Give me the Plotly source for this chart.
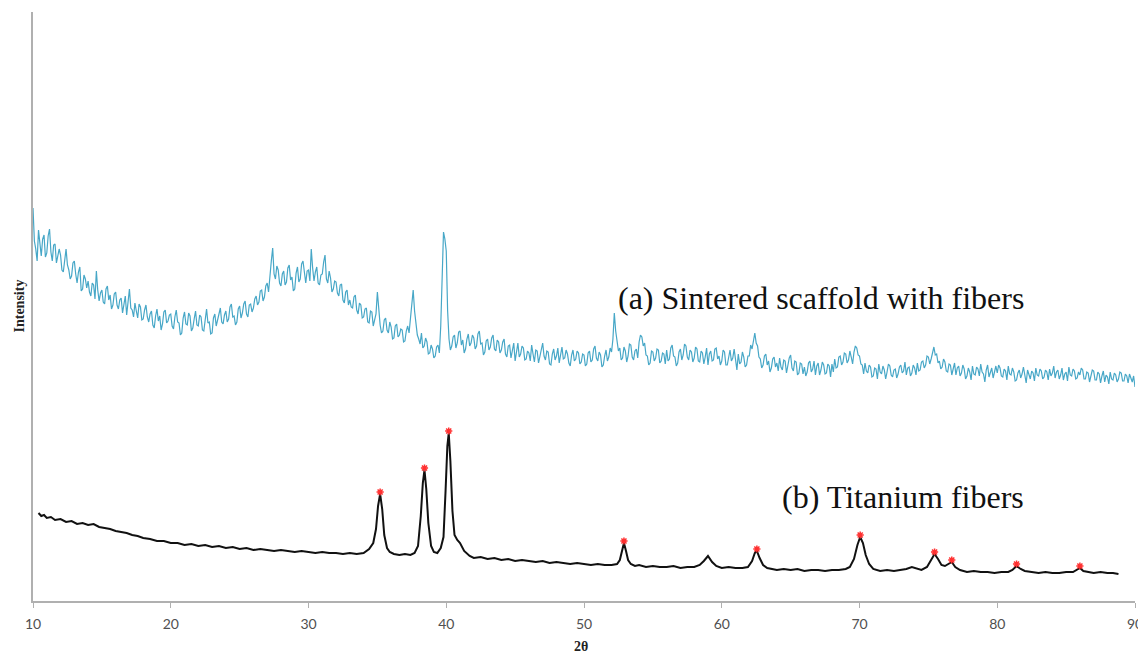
import plotly.graph_objects as go

# ---------------- data ----------------
# (a) Sintered scaffold with fibers: 2-theta from 10 to 90 in 0.1 steps
a_start, a_step = 10.0, 0.1
a_intensity = [
    393, 360, 352, 340, 371, 355, 345, 362, 366, 344, 348, 365, 372, 349, 340, 356, 357, 338, 344, 352,
    346, 331, 329, 344, 352, 336, 331, 322, 325, 338, 340, 327, 318, 329, 334, 310, 312, 326, 322, 313,
    320, 309, 305, 318, 316, 302, 330, 311, 300, 308, 311, 299, 297, 312, 315, 301, 306, 292, 296, 307,
    309, 296, 292, 301, 303, 288, 297, 305, 286, 298, 312, 293, 291, 284, 298, 290, 283, 297, 294, 281,
    282, 291, 296, 284, 279, 287, 290, 276, 273, 285, 292, 280, 285, 271, 277, 289, 291, 278, 280, 286,
    287, 275, 272, 284, 291, 279, 278, 266, 268, 283, 289, 277, 276, 288, 285, 270, 273, 282, 290, 276,
    275, 286, 284, 271, 270, 281, 292, 278, 279, 267, 268, 283, 287, 275, 281, 290, 293, 279, 277, 286,
    290, 279, 282, 294, 297, 284, 285, 276, 279, 292, 295, 283, 288, 297, 300, 287, 284, 296, 297, 289,
    293, 302, 305, 296, 299, 310, 311, 300, 304, 315, 318, 309, 329, 340, 353, 327, 322, 335, 331, 318,
    315, 327, 330, 316, 319, 333, 336, 321, 324, 310, 312, 328, 334, 319, 322, 337, 340, 325, 318, 330,
    331, 320, 352, 333, 320, 329, 334, 318, 316, 326, 327, 339, 346, 322, 318, 330, 323, 309, 312, 320,
    319, 308, 305, 316, 317, 301, 298, 309, 311, 296, 301, 294, 293, 304, 306, 291, 287, 298, 296, 283,
    284, 292, 293, 279, 278, 290, 289, 275, 280, 287, 309, 290, 276, 268, 270, 281, 283, 271, 268, 279,
    274, 262, 263, 275, 277, 264, 266, 272, 271, 259, 260, 270, 275, 268, 284, 295, 311, 290, 279, 266,
    262, 257, 268, 253, 255, 263, 259, 247, 248, 256, 252, 243, 245, 254, 256, 248, 275, 330, 369, 362,
    350, 290, 262, 251, 255, 264, 266, 253, 258, 269, 270, 256, 261, 248, 252, 262, 267, 255, 258, 266,
    263, 252, 255, 267, 270, 257, 258, 246, 249, 260, 262, 251, 254, 263, 266, 252, 250, 261, 259, 248,
    251, 259, 262, 247, 244, 255, 256, 243, 249, 258, 240, 251, 258, 244, 247, 255, 253, 241, 242, 250,
    248, 240, 256, 247, 239, 251, 250, 238, 244, 253, 258, 245, 241, 250, 249, 237, 236, 247, 252, 241,
    245, 253, 238, 246, 254, 242, 243, 251, 247, 238, 235, 246, 251, 240, 242, 250, 248, 237, 239, 247,
    246, 235, 237, 248, 250, 239, 241, 252, 255, 243, 240, 249, 246, 234, 236, 245, 251, 240, 244, 253,
    249, 262, 288, 270, 262, 250, 253, 241, 243, 254, 250, 239, 245, 257, 256, 244, 241, 250, 252, 243,
    259, 266, 264, 255, 258, 246, 245, 236, 238, 250, 249, 240, 243, 252, 251, 238, 240, 248, 247, 237,
    251, 240, 242, 253, 256, 245, 244, 235, 238, 249, 252, 241, 246, 257, 255, 244, 241, 251, 249, 239,
    243, 254, 252, 240, 239, 250, 248, 237, 244, 253, 236, 247, 250, 240, 241, 252, 253, 242, 245, 236,
    240, 251, 249, 236, 236, 246, 251, 240, 243, 252, 238, 231, 247, 237, 239, 249, 244, 234, 236, 245,
    245, 256, 252, 262, 268, 258, 255, 244, 242, 233, 236, 245, 247, 236, 240, 229, 233, 242, 244, 234,
    238, 230, 243, 234, 231, 241, 240, 228, 235, 243, 246, 233, 230, 240, 239, 226, 228, 238, 237, 227,
    234, 225, 229, 238, 240, 229, 232, 240, 226, 235, 238, 226, 231, 239, 236, 227, 228, 237, 235, 224,
    237, 229, 242, 233, 234, 244, 245, 236, 239, 248, 247, 238, 241, 250, 244, 237, 249, 255, 253, 246,
    245, 237, 236, 227, 238, 230, 228, 236, 234, 224, 225, 233, 232, 222, 237, 229, 227, 235, 231, 222,
    229, 237, 235, 226, 224, 231, 232, 223, 227, 234, 236, 228, 230, 239, 226, 233, 234, 225, 228, 236,
    233, 226, 238, 230, 231, 239, 240, 233, 236, 245, 244, 237, 242, 248, 254, 246, 247, 238, 240, 232,
    234, 242, 239, 230, 229, 237, 236, 226, 231, 238, 226, 233, 235, 225, 228, 236, 232, 222, 225, 233,
    229, 221, 235, 227, 226, 234, 232, 225, 237, 229, 227, 219, 231, 236, 224, 230, 233, 223, 228, 235,
    228, 236, 233, 225, 224, 232, 230, 221, 235, 227, 226, 233, 229, 220, 221, 228, 231, 223, 227, 234,
    226, 218, 231, 225, 222, 230, 228, 220, 233, 226, 225, 232, 230, 222, 224, 231, 229, 221, 232, 225,
    228, 235, 223, 229, 231, 222, 226, 233, 221, 227, 229, 220, 234, 226, 225, 232, 230, 222, 223, 229,
    226, 233, 231, 222, 222, 229, 228, 219, 224, 231, 230, 221, 221, 229, 227, 218, 225, 230, 219, 226,
    224, 217, 229, 222, 221, 228, 226, 219, 222, 229, 228, 220, 220, 227, 225, 218, 227, 222, 219, 225,
    214,
]
a_two_theta = [round(a_start + i * a_step, 2) for i in range(len(a_intensity))]

# (b) Titanium fibers
b_two_theta = [
    10.4, 10.6, 10.8, 11.0, 11.3, 11.6, 12.0, 12.4, 12.8, 13.2, 13.6, 14.0, 14.4, 14.8,
    15.2, 15.6, 16.0, 16.4, 16.8, 17.2, 17.6, 18.0, 18.5, 19.0, 19.5, 20.0, 20.5, 21.0,
    21.5, 22.0, 22.5, 23.0, 23.5, 24.0, 24.5, 25.0, 25.5, 26.0, 26.5, 27.0, 27.5, 28.0,
    28.5, 29.0, 29.5, 30.0, 30.5, 31.0, 31.5, 32.0, 32.5, 33.0, 33.5, 34.0, 34.4, 34.7,
    34.9, 35.05, 35.2, 35.35, 35.5, 35.7, 35.9, 36.2, 36.6, 37.0, 37.4, 37.7, 37.95,
    38.15, 38.3, 38.42, 38.55, 38.7, 38.9, 39.1, 39.35, 39.6, 39.8, 39.95, 40.08, 40.18,
    40.3, 40.45, 40.6, 40.8, 41.0, 41.3, 41.7, 42.0, 42.5, 43.0, 43.5, 44.0, 44.5, 45.0,
    45.5, 46.0, 46.5, 47.0, 47.5, 48.0, 48.5, 49.0, 49.5, 50.0, 50.5, 51.0, 51.5, 52.0,
    52.4, 52.6, 52.75, 52.9, 53.05, 53.2, 53.4, 53.7, 54.0, 54.5, 55.0, 55.5, 56.0, 56.5,
    57.0, 57.5, 58.0, 58.4, 58.7, 59.0, 59.3, 59.6, 60.0, 60.5, 61.0, 61.5, 61.9, 62.2,
    62.4, 62.55, 62.75, 63.0, 63.3, 63.7, 64.0, 64.5, 65.0, 65.5, 66.0, 66.5, 67.0, 67.5,
    68.0, 68.5, 69.0, 69.3, 69.6, 69.85, 70.05, 70.25, 70.45, 70.7, 71.0, 71.5, 72.0,
    72.5, 73.0, 73.4, 73.8, 74.1, 74.5, 74.9, 75.2, 75.45, 75.7, 75.95, 76.2, 76.45,
    76.7, 76.95, 77.3, 77.8, 78.3, 78.8, 79.3, 79.8, 80.3, 80.8, 81.1, 81.4, 81.7, 82.0,
    82.5, 83.0, 83.5, 84.0, 84.5, 85.0, 85.5, 85.8, 86.0, 86.25, 86.6, 87.0, 87.5, 88.0,
    88.4, 88.8,
]
b_intensity = [
    88, 85, 86, 83, 84, 81, 82, 79, 80, 77, 78, 76, 77, 74,
    73, 72, 70, 69, 68, 66, 65, 63, 62, 60, 60, 58, 58, 56,
    57, 55, 56, 54, 55, 53, 54, 52, 53, 51, 52, 51, 50, 51,
    50, 49, 50, 49, 48, 49, 48, 48, 47, 48, 47, 48, 52, 58,
    72, 95, 107, 92, 66, 53, 49, 47, 46, 47, 46, 48, 55,
    85, 118, 131, 112, 78, 55, 49, 48, 53, 64, 110, 155, 168,
    140, 90, 66, 61, 58, 50, 45, 43, 44, 42, 43, 41, 42, 40,
    41, 40, 39, 40, 38, 39, 38, 37, 38, 37, 36, 37, 36, 36,
    37, 41, 50, 58, 50, 41, 37, 35, 36, 34, 35, 34, 34, 35,
    33, 34, 34, 36, 40, 45, 39, 35, 33, 34, 33, 33, 34, 40,
    48, 50, 43, 36, 33, 32, 31, 32, 31, 32, 30, 31, 31, 30,
    31, 31, 32, 34, 42, 56, 64, 58, 46, 37, 32, 30, 31,
    30, 31, 32, 34, 33, 31, 34, 41, 47, 42, 36, 35, 37,
    39, 34, 31, 29, 30, 29, 29, 28, 29, 29, 31, 35, 32, 30,
    29, 28, 29, 28, 28, 29, 29, 31, 33, 30, 29, 28, 29, 28,
    28, 27,
]

# Marked Ti reflections (red asterisks)
peak_two_theta = [35.2, 38.42, 40.18, 52.9, 62.55, 70.05, 75.45, 76.7, 81.4, 86.0]
peak_intensity = [109, 133, 170, 60, 52, 66, 49, 41, 37, 35]

x_ticks = [10, 20, 30, 40, 50, 60, 70, 80, 90]

label_a = "(a) Sintered scaffold with fibers"
label_b = "(b) Titanium fibers"

# ---------------- figure ----------------
fig = go.Figure()
fig.add_trace(go.Scatter(
    x=a_two_theta, y=a_intensity, mode="lines",
    line=dict(color="#47a7c7", width=1.2), hoverinfo="skip", showlegend=False))
fig.add_trace(go.Scatter(
    x=b_two_theta, y=b_intensity, mode="lines",
    line=dict(color="#111111", width=2), hoverinfo="skip", showlegend=False))
fig.add_trace(go.Scatter(
    x=peak_two_theta, y=peak_intensity, mode="markers",
    marker=dict(symbol="asterisk-open", size=6, color="#ff3030",
                line=dict(color="#ff3030", width=1.5)),
    hoverinfo="skip", showlegend=False))

serif = "Liberation Serif, Times New Roman, serif"

# the page body has an 8px default margin, so the figure is sized to fit the window
fig.update_layout(
    width=1138, height=652,
    margin=dict(l=25, r=11, t=4, b=59, autoexpand=False),
    paper_bgcolor="white", plot_bgcolor="white",
    xaxis=dict(range=[10, 90], tickvals=x_ticks, ticks="outside", ticklen=5,
               tickcolor="#b0b0b0", showline=True, linecolor="#b0b0b0", linewidth=1.5,
               showgrid=False, zeroline=False, automargin=False, ticklabelstandoff=4,
               tickfont=dict(family="Lato, Open Sans, sans-serif", size=14, color="#505050")),
    yaxis=dict(range=[0, 589], showticklabels=False, ticks="", showline=True,
               linecolor="#b0b0b0", linewidth=1.5, showgrid=False, zeroline=False,
               automargin=False),
    annotations=[
        dict(text="<b>2θ</b>", xref="paper", yref="paper", x=0.497, y=0, yanchor="middle",
             yshift=-45, showarrow=False, font=dict(family=serif, size=14, color="#222222")),
        dict(text="<b>Intensity</b>", xref="paper", yref="paper", x=0, xanchor="center",
             xshift=-14, y=0.5, textangle=-90, showarrow=False,
             font=dict(family=serif, size=14, color="#222222")),
        dict(text=label_a, xref="x", yref="y", x=82.1, y=303, xanchor="right",
             showarrow=False, font=dict(family=serif, size=32, color="#111111")),
        dict(text=label_b, xref="x", yref="y", x=82.1, y=104, xanchor="right",
             showarrow=False, font=dict(family=serif, size=32, color="#111111")),
    ],
)

fig.write_html("out.html")
